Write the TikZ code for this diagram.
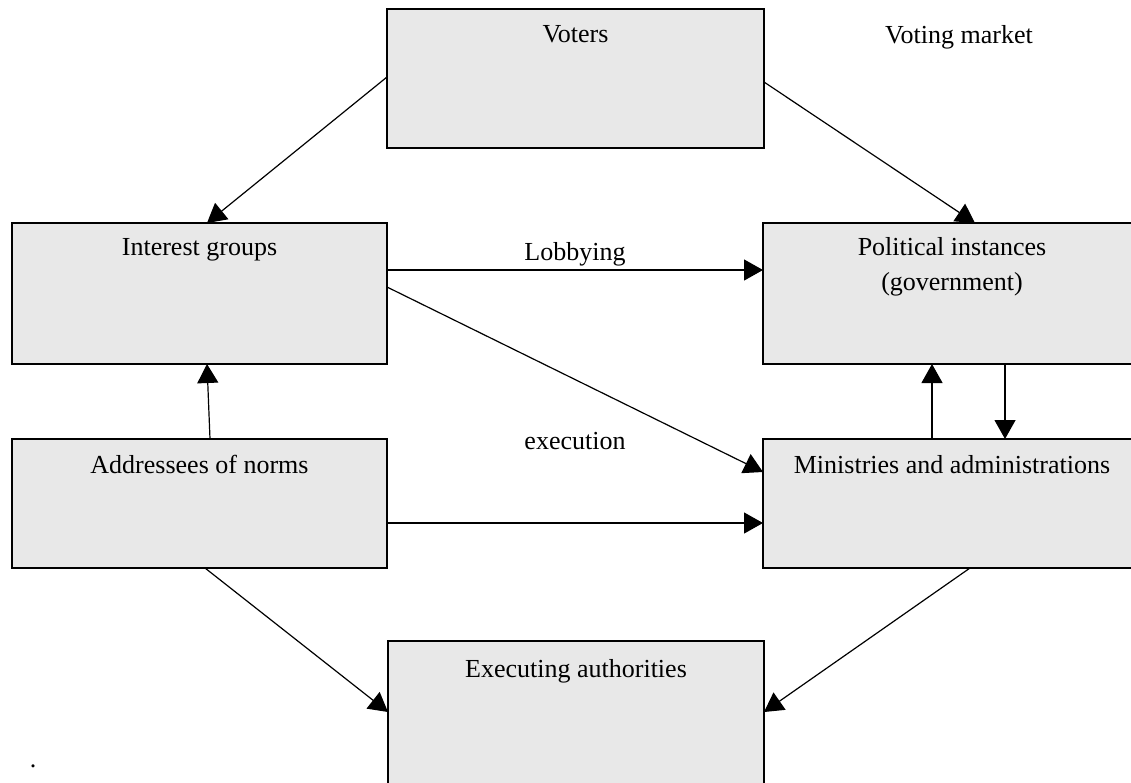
\documentclass[tikz,border=0pt]{standalone}
\usepackage{fontspec}
\setmainfont{Liberation Serif}
\usetikzlibrary{arrows.meta}
\definecolor{boxgray}{HTML}{E8E8E8}
\begin{document}
\begin{tikzpicture}[x=1pt,y=-1pt,
  box/.style={draw=black, line width=1.5pt, fill=boxgray, rectangle,
    inner sep=0pt, outer sep=0pt},
  lbl/.style={anchor=base, inner sep=0pt, font=\fontsize{26}{35}\selectfont},
  link/.style={line width=1.2pt, -{Triangle[length=19pt,width=21pt]}}]
\useasboundingbox (0,0) rectangle (1131,782);
\clip (0,0) rectangle (1131,782);

% boxes
\node[box, minimum width=377pt, minimum height=139pt] (voters) at (575.5,78.5) {};
\node[box, minimum width=375pt, minimum height=141pt] (interest) at (199.5,293.5) {};
\node[box, minimum width=378pt, minimum height=141pt] (political) at (952,293.5) {};
\node[box, minimum width=375pt, minimum height=129pt] (addressees) at (199.5,503.5) {};
\node[box, minimum width=378pt, minimum height=129pt] (ministries) at (952,503.5) {};
\node[box, minimum width=376pt, minimum height=169pt] (executing) at (576,725.5) {};

% box titles
\node[lbl] (tvoters) at ([yshift=-33pt]voters.north) {Voters};
\node[lbl] (tinterest) at ([yshift=-32pt]interest.north) {Interest groups};
\node[lbl] (tpolitical) at ([yshift=-32pt]political.north)
  {\begin{tabular}[t]{@{}c@{}}Political instances\\(government)\end{tabular}};
\node[lbl] (taddressees) at ([yshift=-34pt]addressees.north) {Addressees of norms};
\node[lbl] (tministries) at ([yshift=-34pt]ministries.north) {Ministries and administrations};
\node[lbl] (texecuting) at ([yshift=-36pt]executing.north) {Executing authorities};

% free labels
\node[lbl] (market) at (959,43) {Voting market};
\node[lbl] (lobbying) at (575,260) {Lobbying};
\node[lbl] (execution) at (575,449) {execution};
\node[lbl] (dot) at (33,767) {.};

% connectors
\draw[link] ([yshift=1.5pt]voters.west) -- ([xshift=7.5pt]interest.north);
\draw[link] ([yshift=-3.5pt]voters.east) -- ([xshift=23pt]political.north);
\draw[link] ([yshift=23.5pt]interest.east) -- ([yshift=23.5pt]political.west);
\draw[link] ([yshift=6.5pt]interest.east) -- ([yshift=31.5pt]ministries.west);
\draw[link] ([xshift=10.5pt]addressees.north) -- ([xshift=7.5pt]interest.south);
\draw[link] ([yshift=-19.5pt]addressees.east) -- ([yshift=-19.5pt]ministries.west);
\draw[link] ([xshift=-20pt]ministries.north) -- ([xshift=-20pt]political.south);
\draw[link] ([xshift=53pt]political.south) -- ([xshift=53pt]ministries.north);
\draw[link] ([xshift=5.5pt]addressees.south) -- ([yshift=13.5pt]executing.west);
\draw[link] ([xshift=18pt]ministries.south) -- ([yshift=13.5pt]executing.east);
\end{tikzpicture}
\end{document}
